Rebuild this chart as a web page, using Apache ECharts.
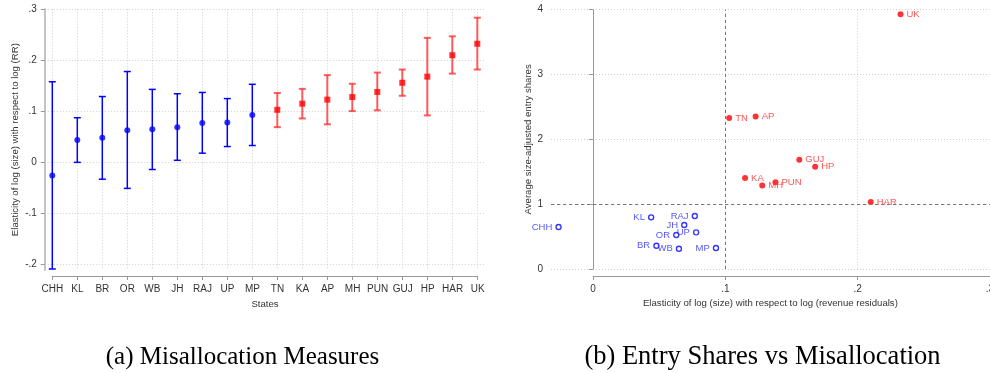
<!DOCTYPE html>
<html><head><meta charset="utf-8">
<script src="https://cdn.jsdelivr.net/npm/echarts@6/dist/echarts.min.js"></script>
<style>html,body{margin:0;padding:0;background:#fff}#c{width:990px;height:373px}</style>
</head><body><div id="c"></div>
<script>
// ---- data ----
const states = ['CHH','KL','BR','OR','WB','JH','RAJ','UP','MP','TN','KA','AP','MH','PUN','GUJ','HP','HAR','UK'];
const estimate = [-0.026,0.044,0.048,0.063,0.065,0.069,0.077,0.078,0.093,0.103,0.115,0.123,0.128,0.138,0.156,0.168,0.210,0.2325];
const ciLow   = [-0.209,0.000,-0.033,-0.051,-0.014,0.004,0.018,0.031,0.033,0.069,0.086,0.0745,0.1005,0.102,0.1305,0.092,0.174,0.182];
const ciHigh  = [0.158,0.0875,0.129,0.178,0.143,0.1345,0.137,0.125,0.153,0.136,0.144,0.171,0.154,0.176,0.182,0.244,0.247,0.2835];
const entryShares = [0.647,0.797,0.359,0.524,0.313,0.678,0.817,0.565,0.324,2.331,1.402,2.353,1.29,1.34,1.684,1.576,1.032,3.929];
const highGroup = [0,0,0,0,0,0,0,0,0,1,1,1,1,1,1,1,1,1];
const leftYTicks = [-0.2,-0.1,0,0.1,0.2,0.3];
const rightXTicks = [0,0.1,0.2,0.3];
const rightYTicks = [0,1,2,3,4];
const refX = 0.098, refY = 1;
const captions = ['(a) Misallocation Measures','(b) Entry Shares vs Misallocation'];

// ---- style ----
const BLUE = '#0000ff', RED = '#ff0000';
const SANS = "'Liberation Sans',Arial,sans-serif";
const fmt = v => { if (Math.abs(v) < 1e-9) return '0'; const s = String(+(+v).toFixed(2)); return s.replace(/^(-?)0\./, '$1.'); };
const grid = {show:true, lineStyle:{color:'#cfcfcf', type:[1,2], width:1}};
const lbl = {color:'#333', fontFamily:SANS, fontSize:10};
const nameStyle = {color:'#333', fontFamily:SANS, fontSize:9.6};
const SERIF = "'Liberation Serif','Times New Roman',serif";

const idx = states.map((s,i)=>i);
const chart = echarts.init(document.getElementById('c'), null, {renderer:'canvas'});
chart.setOption({
  animation:false,
  backgroundColor:'#fff',
  textStyle:{fontFamily:SANS},
  grid:[
    {left:44.8, width:440, top:9.3, height:260.7, outerBoundsMode:'none', containLabel:false},
    {left:52.3, width:425.4, top:9.3, height:266.7, outerBoundsMode:'none', containLabel:false},
    {left:551, width:438.8, top:9.7, height:259.3, outerBoundsMode:'none', containLabel:false},
    {left:593, width:396.9, top:9.7, height:266.3, outerBoundsMode:'none', containLabel:false}
  ],
  xAxis:[
    {gridIndex:0, type:'value', min:0.7, max:18.3, axisLine:{show:false}, axisLabel:{show:false},
     axisTick:{show:false, customValues: idx.map(i=>i+1)}, splitLine:grid},
    {gridIndex:1, type:'category', data:states, boundaryGap:false,
     axisLine:{lineStyle:{color:'#999', width:1}}, axisTick:{length:4, lineStyle:{color:'#999'}},
     axisLabel:Object.assign({margin:8, interval:0}, lbl), splitLine:{show:false},
     name:'States', nameLocation:'middle', nameGap:20, nameTextStyle:nameStyle},
    {gridIndex:2, type:'value', min:-0.0317, max:0.3, axisLine:{show:false}, axisLabel:{show:false},
     axisTick:{show:false, customValues:rightXTicks}, splitLine:grid,
     name:'Elasticity of log (size) with respect to log (revenue residuals)', nameLocation:'middle', nameGap:29, nameTextStyle:nameStyle},
    {gridIndex:3, type:'value', min:0, max:0.3, interval:0.1,
     axisLine:{lineStyle:{color:'#999', width:1}}, axisTick:{length:4, lineStyle:{color:'#999'}},
     axisLabel:Object.assign({margin:8, formatter:fmt, showMaxLabel:true, hideOverlap:false}, lbl), splitLine:{show:false}}
  ],
  yAxis:[
    {gridIndex:0, type:'value', min:-0.211, max:0.3,
     axisLine:{show:true, lineStyle:{color:'#c4c4c4', width:2}},
     axisTick:{show:true, length:4, lineStyle:{color:'#999'}, customValues:leftYTicks},
     axisLabel:Object.assign({margin:8, formatter:fmt, customValues:leftYTicks}, lbl),
     splitLine:grid,
     name:'Elasticity of log (size) with respect to log (RR)', nameLocation:'middle', nameGap:24, nameTextStyle:nameStyle},
    {gridIndex:1, type:'value', show:false},
    {gridIndex:2, type:'value', min:0, max:4, interval:1,
     axisLine:{show:true, lineStyle:{color:'#999', width:1}},
     axisTick:{show:true, length:4, lineStyle:{color:'#999'}},
     axisLabel:Object.assign({margin:8, formatter:fmt}, lbl),
     splitLine:grid,
     name:'Average size-adjusted entry shares', nameLocation:'middle', nameGap:18, nameTextStyle:nameStyle},
    {gridIndex:3, type:'value', show:false}
  ],
  graphic:[
    {type:'text', x:242.5, y:357, style:{text:captions[0], font:"25px " + SERIF, fill:'#000', align:'center', verticalAlign:'middle'}},
    {type:'text', x:762.5, y:357, style:{text:captions[1], font:"26.5px " + SERIF, fill:'#000', align:'center', verticalAlign:'middle'}}
  ],
  series:[
    {type:'custom', xAxisIndex:0, yAxisIndex:0, clip:false, z:3,
     data: idx.map(i=>[i+1, ciLow[i], ciHigh[i], highGroup[i]]),
     encode:{x:0, y:[1,2]},
     renderItem:(params, api)=>{
       const x = api.value(0), lo = api.value(1), hi = api.value(2), g = api.value(3);
       const a = api.coord([x, hi]), b = api.coord([x, lo]);
       const w = 3.5;
       const st = g ? {stroke:'rgba(255,40,40,0.75)', lineWidth:2} : {stroke:BLUE, lineWidth:1.5};
       return {type:'group', children:[
         {type:'line', shape:{x1:a[0], y1:a[1], x2:b[0], y2:b[1]}, style:st},
         {type:'line', shape:{x1:a[0]-w, y1:a[1], x2:a[0]+w, y2:a[1]}, style:st},
         {type:'line', shape:{x1:b[0]-w, y1:b[1], x2:b[0]+w, y2:b[1]}, style:st}
       ]};
     }},
    {type:'scatter', xAxisIndex:0, yAxisIndex:0, z:4, symbol:'circle', symbolSize:6, itemStyle:{color:BLUE},
     data: idx.filter(i=>!highGroup[i]).map(i=>[i+1, estimate[i]])},
    {type:'scatter', xAxisIndex:0, yAxisIndex:0, z:4, symbol:'rect', symbolSize:6, itemStyle:{color:RED},
     data: idx.filter(i=>highGroup[i]).map(i=>[i+1, estimate[i]])},
    {type:'scatter', xAxisIndex:2, yAxisIndex:2, z:4, symbol:'circle', symbolSize:5,
     itemStyle:{color:'#fff', borderColor:BLUE, borderWidth:1.4},
     label:{show:true, position:'left', distance:3, formatter:'{b}', color:'#2a2aff', fontFamily:SANS, fontSize:9.5},
     data: idx.filter(i=>!highGroup[i]).map(i=>({name:states[i], value:[estimate[i], entryShares[i]]})),
     markLine:{silent:true, symbol:'none', label:{show:false}, animation:false,
       lineStyle:{color:'#777', type:[3,3], width:1},
       data:[{xAxis:refX}, {yAxis:refY}]}},
    {type:'scatter', xAxisIndex:2, yAxisIndex:2, z:4, symbol:'circle', symbolSize:6, itemStyle:{color:RED},
     label:{show:true, position:'right', distance:3, formatter:'{b}', color:'#ff2a2a', fontFamily:SANS, fontSize:9.5},
     data: idx.filter(i=>highGroup[i]).map(i=>({name:states[i], value:[estimate[i], entryShares[i]]}))}
  ]
});
</script></body></html>
